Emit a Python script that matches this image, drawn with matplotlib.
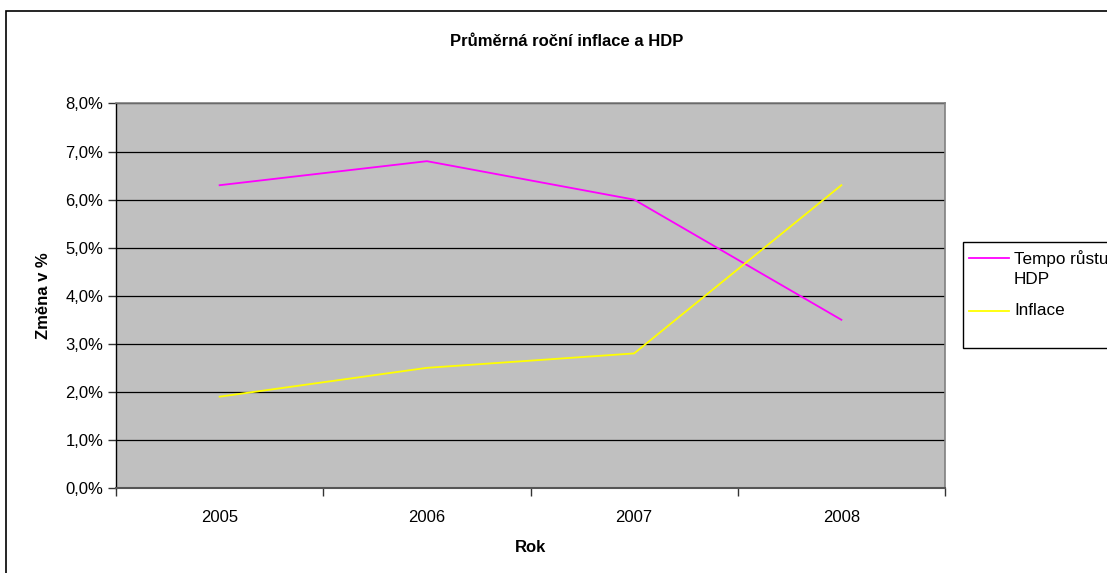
import matplotlib
matplotlib.use("Agg")
import matplotlib.pyplot as plt
from matplotlib.patches import Rectangle
from matplotlib.lines import Line2D
from matplotlib.ticker import FuncFormatter

years = ["2005", "2006", "2007", "2008"]
hdp = [6.3, 6.8, 6.0, 3.5]
inflace = [1.9, 2.5, 2.8, 6.3]
series_names = ["Tempo růstu\nHDP", "Inflace"]
colors = ["#ff00ff", "#ffff00"]

plt.rcParams['font.family'] = ['Liberation Sans', 'DejaVu Sans']

W, H = 1107, 573
fig = plt.figure(figsize=(W / 100, H / 100), dpi=100)

def fx(px):
    return px / W

def fy(py):
    return 1 - py / H

# outer chart frame
fig.patches.append(Rectangle((fx(6), fy(1000)), 2, fy(11) - fy(1000), transform=fig.transFigure,
                             fill=False, edgecolor='black', linewidth=1.2, clip_on=False))

ax = fig.add_axes([fx(116), fy(488), fx(945) - fx(116), fy(103.5) - fy(488)])
ax.set_facecolor('#c0c0c0')

x = list(range(len(years)))
ax.plot(x, hdp, color=colors[0], lw=1.3, zorder=3)
ax.plot(x, inflace, color=colors[1], lw=1.3, zorder=3)

ax.set_xlim(-0.5, len(years) - 0.5)
ax.set_ylim(0, 8)
ax.set_yticks([i for i in range(0, 9)])
ax.yaxis.set_major_formatter(FuncFormatter(lambda v, p: f"{v:.1f}".replace('.', ',') + "%"))
ax.grid(axis='y', color='black', lw=0.9, zorder=1)
ax.set_axisbelow(True)

ax.set_xticks([i - 0.5 for i in range(len(years) + 1)])
ax.set_xticklabels([])
ax.set_xticks(x, minor=True)
ax.set_xticklabels(years, minor=True)
ax.tick_params(axis='x', which='major', direction='out', length=6, width=1, color='#333333')
ax.tick_params(axis='x', which='minor', length=0, pad=16, labelsize=12)
ax.tick_params(axis='y', direction='out', length=6, width=1, color='#333333', pad=3, labelsize=12)

for s in ['top', 'right']:
    ax.spines[s].set_color('#808080')
    ax.spines[s].set_linewidth(1.2)
ax.spines['left'].set_color('black')
ax.spines['left'].set_linewidth(1)
ax.spines['bottom'].set_color('#555555')
ax.spines['bottom'].set_linewidth(1.5)

fig.text(fx(567), fy(41), "Průměrná roční inflace a HDP", ha='center', va='center',
         fontsize=12, fontweight='bold')
fig.text(fx(43), fy(296), "Změna v %", ha='center', va='center', rotation=90,
         fontsize=12, fontweight='bold')
fig.text(fx(530), fy(547), "Rok", ha='center', va='center', fontsize=12, fontweight='bold')

# legend
fig.patches.append(Rectangle((fx(963), fy(348)), fx(1200) - fx(963), fy(242) - fy(348),
                             transform=fig.transFigure, fill=True, facecolor='white',
                             edgecolor='black', linewidth=1, clip_on=False))
leg_y = [258, 311]
for name, c, ly in zip(series_names, colors, leg_y):
    fig.lines.append(Line2D([fx(969), fx(1009)], [fy(ly), fy(ly)], transform=fig.transFigure,
                            color=c, lw=1.3))
    fig.text(fx(1014), fy(ly - 8), name, ha='left', va='top', fontsize=12.3, linespacing=1.4)

fig.savefig("out.png", dpi=100)
